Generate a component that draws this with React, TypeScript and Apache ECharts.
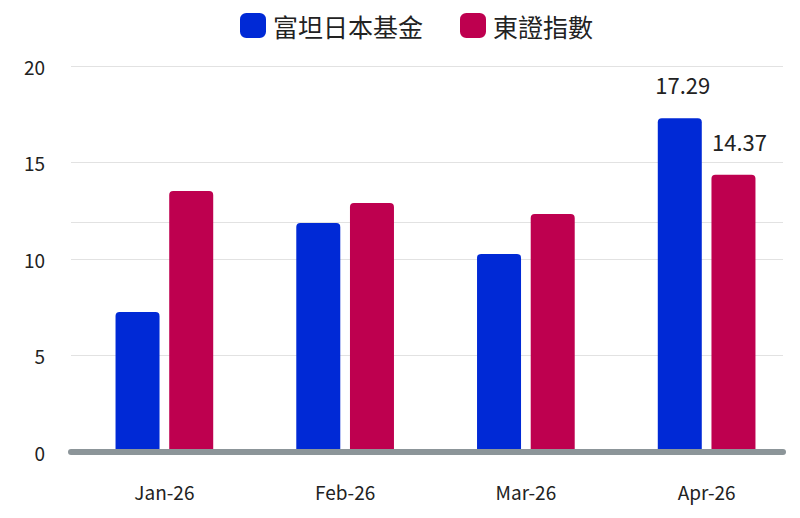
import React, { useEffect, useRef } from "react";
import * as echarts from "echarts";

const categories = ["Jan-26", "Feb-26", "Mar-26", "Apr-26"];
const fundName = "富坦日本基金";
const indexName = "東證指數";
const fundValues = [7.25, 11.87, 10.26, 17.29];
const indexValues = [13.52, 12.9, 12.33, 14.37];
const labelledIndex = 3;
const extraLineValue = 11.9;
const yTicks = { min: 0, max: 20, interval: 5 };

const FONT = "'Noto Sans CJK TC', 'Noto Sans', sans-serif";

export default function App() {
  const ref = useRef<HTMLDivElement>(null);
  useEffect(() => {
    if (!ref.current) return;
    const chart = echarts.init(ref.current, null, { renderer: "svg" });
    const mkData = (vals: number[], offset: number[]) =>
      vals.map((v, i) =>
        i === labelledIndex
          ? {
              value: v,
              label: {
                show: true,
                position: "top",
                distance: 23,
                offset,
                fontSize: 22,
                color: "#222",
                fontFamily: FONT,
                formatter: (p: any) => p.value.toFixed(2),
              },
            }
          : v
      );
    chart.setOption({
      animation: false,
      textStyle: { fontFamily: FONT },
      legend: {
        top: 13,
        left: 240,
        padding: 0,
        itemWidth: 26,
        itemHeight: 25,
        itemGap: 37,
        icon: "roundRect",
        data: [fundName, indexName],
        textStyle: { fontSize: 25, color: "#222", fontFamily: FONT, padding: [0, 0, 0, 2] },
      },
      grid: [
        { left: 71, right: 17, top: 66, bottom: 66 },
        { left: 74, right: 3, top: 66, bottom: 66 },
      ],
      xAxis: [
        {
          gridIndex: 0,
          type: "category",
          data: categories,
          z: 10,
          axisLine: { show: true, lineStyle: { color: "#8c9599", width: 6 } },
          axisTick: { show: false },
          axisLabel: { show: false },
        },
        {
          gridIndex: 1,
          type: "category",
          data: categories,
          axisLine: { show: false },
          axisTick: { show: false },
          axisLabel: { fontSize: 19, color: "#222", margin: 30, fontFamily: FONT },
        },
      ],
      yAxis: [
        {
          gridIndex: 0,
          type: "value",
          ...yTicks,
          axisLine: { show: false },
          axisTick: { show: false },
          axisLabel: { fontSize: 19, color: "#222", margin: 26, fontFamily: FONT },
          splitLine: { lineStyle: { color: "#e2e2e2", width: 1 } },
        },
        {
          gridIndex: 1,
          type: "value",
          ...yTicks,
          show: false,
          splitLine: { show: false },
        },
      ],
      series: [
        {
          name: "__ref",
          type: "bar",
          xAxisIndex: 0,
          yAxisIndex: 0,
          data: categories.map(() => "-"),
          silent: true,
          z: 0,
          markLine: {
            silent: true,
            z: 0,
            symbol: "none",
            label: { show: false },
            lineStyle: { color: "#e2e2e2", width: 1, type: "solid" },
            data: [{ yAxis: extraLineValue }],
          },
        },
        {
          name: fundName,
          type: "bar",
          xAxisIndex: 1,
          yAxisIndex: 1,
          data: mkData(fundValues, [3, 0]),
          barWidth: 44,
          barGap: "22%",
          itemStyle: { color: "#0029D6", borderRadius: [4, 4, 0, 0] },
          z: 3,
        },
        {
          name: indexName,
          type: "bar",
          xAxisIndex: 1,
          yAxisIndex: 1,
          data: mkData(indexValues, [6, 0]),
          barWidth: 44,
          itemStyle: { color: "#BE004F", borderRadius: [4, 4, 0, 0] },
          z: 3,
        },
      ],
    });
    return () => chart.dispose();
  }, []);
  return <div ref={ref} style={{ width: 800, height: 518, position: "absolute", left: 0, top: 0 }} />;
}
